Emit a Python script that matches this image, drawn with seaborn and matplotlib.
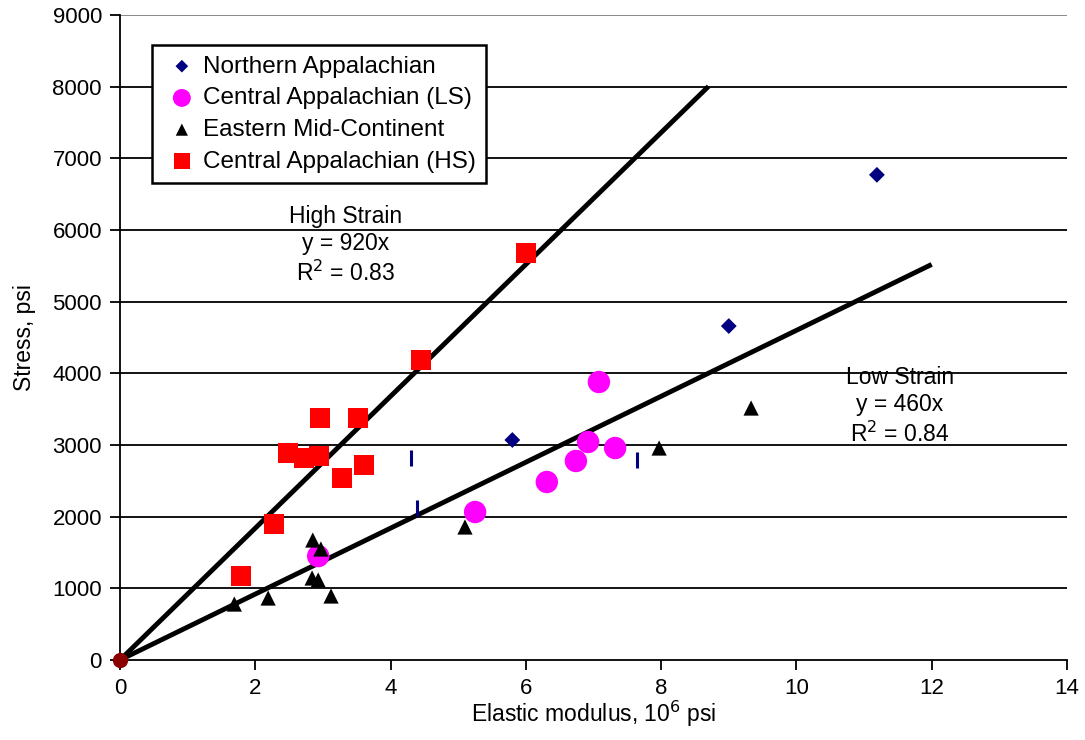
import matplotlib
matplotlib.use("Agg")
import matplotlib.pyplot as plt
import seaborn as sns
import pandas as pd
import numpy as np

# ---- data ----
na_x = [5.80, 9.00, 11.19]
na_y = [3070, 4660, 6770]

cls_x = [2.93, 5.25, 6.31, 6.74, 6.92, 7.08, 7.32]
cls_y = [1450, 2065, 2484, 2777, 3042, 3879, 2958]

emc_x = [1.69, 2.19, 2.85, 2.97, 2.84, 2.93, 3.12, 5.10, 7.97, 9.33]
emc_y = [781, 865, 1674, 1549, 1144, 1116, 893, 1856, 2958, 3516]

chs_x = [2.96, 3.52, 2.48, 2.72, 2.94, 3.61, 3.28, 2.28, 1.79, 4.45, 6.00]
chs_y = [3377, 3377, 2888, 2818, 2846, 2720, 2540, 1898, 1172, 4186, 5679]

tick_x = [4.30, 4.39, 7.64]
tick_y = [2818, 2120, 2790]

origin_x = [0.0]
origin_y = [0.0]

hs_slope = 920
hs_xend = [0.0, 8.70]
ls_slope = 460
ls_xend = [0.0, 12.0]

x_ticks = [0, 2, 4, 6, 8, 10, 12, 14]
y_ticks = [0, 1000, 2000, 3000, 4000, 5000, 6000, 7000, 8000, 9000]

# ---- style ----
sns.set_theme(style="white")
plt.rcParams['font.family'] = ['Liberation Sans', 'DejaVu Sans']
plt.rcParams['text.color'] = 'black'
plt.rcParams['axes.labelcolor'] = 'black'
plt.rcParams['xtick.color'] = 'black'
plt.rcParams['ytick.color'] = 'black'

fig, ax = plt.subplots(figsize=(10.85, 7.4), dpi=100)
fig.subplots_adjust(left=0.1106, right=0.9834, top=0.9797, bottom=0.1081)

# gridlines
for yv in y_ticks[1:-1]:
    ax.axhline(yv, color='black', lw=1.3, zorder=1)
ax.axhline(y_ticks[-1], color='#808080', lw=1.3, zorder=1)

# trend lines
hs_df = pd.DataFrame({'x': hs_xend, 'y': [hs_slope * v for v in hs_xend]})
ls_df = pd.DataFrame({'x': ls_xend, 'y': [ls_slope * v for v in ls_xend]})
sns.lineplot(data=hs_df, x='x', y='y', color='black', lw=3.5, ax=ax, zorder=3,
             solid_capstyle='butt')
sns.lineplot(data=ls_df, x='x', y='y', color='black', lw=3.5, ax=ax, zorder=3,
             solid_capstyle='butt')

# scatter series
sns.scatterplot(x=na_x, y=na_y, marker='D', s=65, color='#000080', edgecolor='none',
                label='Northern Appalachian', ax=ax, zorder=4)
sns.scatterplot(x=cls_x, y=cls_y, marker='o', s=260, color='#FF00FF', edgecolor='none',
                label='Central Appalachian (LS)', ax=ax, zorder=4)
sns.scatterplot(x=emc_x, y=emc_y, marker='^', s=120, color='black', edgecolor='none',
                label='Eastern Mid-Continent', ax=ax, zorder=5)
sns.scatterplot(x=chs_x, y=chs_y, marker='s', s=210, color='#FF0000', edgecolor='none',
                label='Central Appalachian (HS)', ax=ax, zorder=4)
ax.plot(tick_x, tick_y, linestyle='none', marker='|', ms=12, mew=2.2,
        color='#000080', zorder=4)
ax.plot(origin_x, origin_y, linestyle='none', marker='o', ms=10, color='#8B0000',
        zorder=6, clip_on=False)

# annotations
ax.text(3.33, 5790, 'High Strain\ny = 920x\nR$^2$ = 0.83', ha='center', va='center',
        fontsize=16.5, linespacing=1.25)
ax.text(11.53, 3540, 'Low Strain\ny = 460x\nR$^2$ = 0.84', ha='center', va='center',
        fontsize=16.5, linespacing=1.25)

# axes
ax.set_xlim(0, 14)
ax.set_ylim(0, 9000)
ax.set_xticks(x_ticks)
ax.set_yticks(y_ticks)
ax.tick_params(axis='both', direction='out', length=7, width=1.3, colors='black',
               labelsize=16, bottom=True, left=True, pad=6)
for side in ['top', 'right']:
    ax.spines[side].set_visible(False)
for side in ['left', 'bottom']:
    ax.spines[side].set_color('black')
    ax.spines[side].set_linewidth(1.3)
ax.set_xlabel('Elastic modulus, 10$^6$ psi', fontsize=16.5, labelpad=0)
ax.set_ylabel('Stress, psi', fontsize=16.5, labelpad=12)

leg = ax.legend(loc='upper left', bbox_to_anchor=(0.034, 0.953), borderaxespad=0,
                fontsize=17.5, frameon=True, fancybox=False, handletextpad=0.05,
                handlelength=1.6, borderpad=0.42, labelspacing=0.40, markerscale=0.8)
leg.get_frame().set_edgecolor('black')
leg.get_frame().set_linewidth(1.8)
leg.get_frame().set_alpha(1)

fig.savefig('out.png', dpi=100)
